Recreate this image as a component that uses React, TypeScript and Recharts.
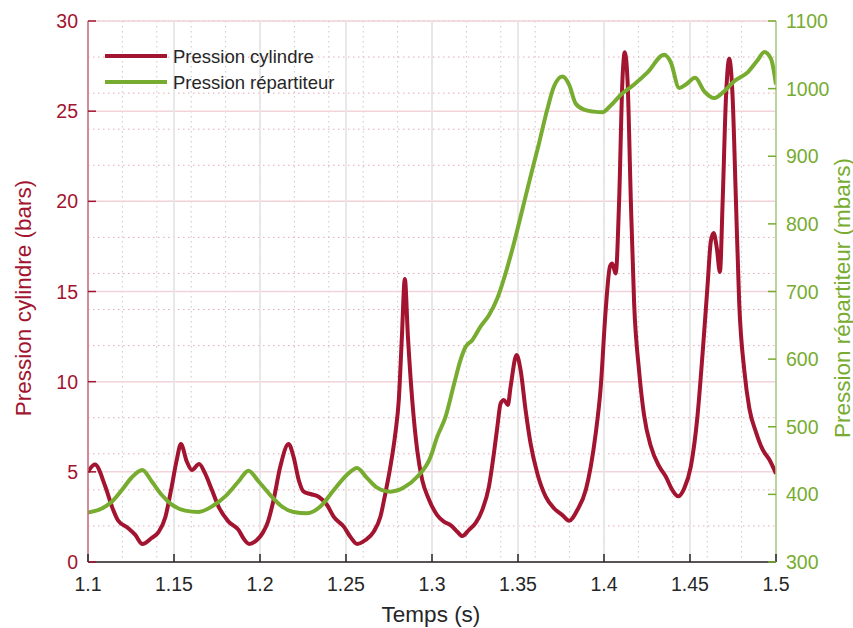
import React from 'react';
import { LineChart, Line, XAxis, YAxis, CartesianGrid, Legend, Label } from 'recharts';

const RED = '#A2142F';
const GREEN = '#77AC30';
const INK = '#262626';
const FONT = '"Liberation Sans", Arial, Helvetica, sans-serif';

// axes
const timeTicks = [1.1, 1.15, 1.2, 1.25, 1.3, 1.35, 1.4, 1.45, 1.5];
const cylinderTicks = [0, 5, 10, 15, 20, 25, 30];
const manifoldTicks = [300, 400, 500, 600, 700, 800, 900, 1000, 1100];

// Pression cylindre (bars)
const cylinderTime = [
  1.1, 1.104, 1.11, 1.114, 1.1175, 1.123, 1.1275, 1.1316, 1.137, 1.141, 1.145, 1.1483, 1.1516, 1.154,
  1.1575, 1.1604, 1.1646, 1.168, 1.172, 1.1759, 1.1817, 1.1875, 1.1904, 1.1937, 1.1982, 1.2015, 1.2045,
  1.2079, 1.2118, 1.2166, 1.2195, 1.2225, 1.2254, 1.2293, 1.2341, 1.239, 1.2428, 1.2487, 1.2525, 1.2565,
  1.2613, 1.2661, 1.27, 1.2729, 1.2758, 1.2787, 1.2807, 1.2825, 1.2842, 1.286, 1.2885, 1.2914, 1.2943,
  1.2981, 1.303, 1.3069, 1.3108, 1.3147, 1.3176, 1.3214, 1.3253, 1.3292, 1.3331, 1.336, 1.338, 1.3399,
  1.3418, 1.3441, 1.3457, 1.3492, 1.3515, 1.3544, 1.3573, 1.3612, 1.3661, 1.3709, 1.3758, 1.3797, 1.3845,
  1.3894, 1.3923, 1.3952, 1.3981, 1.401, 1.4035, 1.4048, 1.4068, 1.4088, 1.4107, 1.4121, 1.4137, 1.4156,
  1.4175, 1.4204, 1.4233, 1.4272, 1.4321, 1.4359, 1.4398, 1.4431, 1.4466, 1.4505, 1.4544, 1.4573, 1.4602,
  1.4621, 1.4637, 1.4656, 1.4674, 1.469, 1.4709, 1.4728, 1.4748, 1.4767, 1.4786, 1.4816, 1.4845, 1.4884,
  1.4922, 1.4961, 1.5,
];
const cylinderBars = [
  5.0, 5.4, 4.2, 3.05, 2.3, 1.9, 1.5, 1.0, 1.33, 1.66, 2.5, 4.0, 5.66, 6.54,
  5.56, 5.1, 5.43, 4.93, 4.0, 3.07, 2.24, 1.78, 1.31, 1.0, 1.22, 1.6, 2.2,
  3.44, 5.29, 6.54, 5.84, 4.55, 3.9, 3.77, 3.62, 3.16, 2.51, 1.96, 1.4, 1.0,
  1.22, 1.68, 2.51, 3.81, 5.29, 7.14, 8.99, 12.5, 15.7, 12.5, 8.99, 6.2, 4.55,
  3.5, 2.6, 2.24, 2.05, 1.68, 1.44, 1.77, 2.15, 2.88, 4.18, 6.03, 7.5, 8.8,
  8.99, 8.71, 9.72, 11.48, 10.65, 8.43, 6.58, 4.92, 3.62, 2.98, 2.6, 2.29, 2.88,
  3.99, 5.29, 7.14, 9.7, 14.0, 16.4, 16.55, 16.0, 20.05, 26.67, 28.27, 26.67, 20.05,
  14.38, 10.6, 8.14, 6.43, 5.3, 4.74, 3.98, 3.64, 4.07, 5.3, 8.14, 11.54, 15.32,
  17.78, 18.25, 17.4, 16.08, 20.05, 25.72, 27.9, 25.72, 20.05, 14.38, 10.6, 8.52, 7.19,
  6.24, 5.68, 4.9,
];

// Pression répartiteur (mbars)
const manifoldTime = [
  1.1, 1.108, 1.1138, 1.1196, 1.1254, 1.1316, 1.1371, 1.1429, 1.1487, 1.1565, 1.1642, 1.172, 1.1798,
  1.1875, 1.1933, 1.1992, 1.206, 1.2118, 1.2195, 1.2273, 1.2351, 1.2428, 1.2506, 1.2564, 1.2623, 1.2681,
  1.2758, 1.2836, 1.2914, 1.2991, 1.303, 1.3079, 1.3127, 1.3166, 1.3195, 1.3234, 1.3282, 1.3331, 1.338,
  1.3428, 1.3476, 1.3525, 1.3573, 1.3622, 1.367, 1.3709, 1.3758, 1.3797, 1.3835, 1.3884, 1.3942, 1.3991,
  1.4039, 1.4098, 1.4175, 1.4253, 1.435, 1.4388, 1.4437, 1.4476, 1.453, 1.4583, 1.4641, 1.4699, 1.4757,
  1.4835, 1.4893, 1.4932, 1.4971, 1.5,
];
const manifoldMbar = [
  373, 379, 389, 406, 425, 436, 419, 399, 385, 376, 374, 382, 397,
  419, 435, 419, 399, 384, 374, 372, 382, 406, 429, 439, 424, 410,
  404, 410, 426, 455, 485, 515, 562, 599, 618, 628, 648, 665, 690,
  727, 771, 821, 870, 919, 969, 1003, 1018, 1006, 978, 969, 966, 965,
  975, 991, 1006, 1024, 1050, 1039, 1001, 1006, 1016, 996, 986, 996, 1011,
  1024, 1042, 1054, 1044, 1006,
];

const minorTime = Array.from({ length: 41 }, (_, i) => +(1.1 + i * 0.01).toFixed(2));
const minorBars = Array.from({ length: 31 }, (_, i) => i);

const cylinderData = cylinderTime.map((t, i) => ({ t, bars: cylinderBars[i] }));
const manifoldData = manifoldTime.map((t, i) => ({ t, mbar: manifoldMbar[i] }));

const TICK_FS = 19.5;
const TITLE_FS = 22.5;

function LeftTick({ x, y, payload }: any) {
  return (
    <g>
      <line x1={x} y1={y} x2={x + 8} y2={y} stroke={RED} strokeWidth={1.5} />
      <text x={x - 10} y={y} dy="0.36em" textAnchor="end" fill={RED} fontSize={TICK_FS} fontFamily={FONT}>
        {payload.value}
      </text>
    </g>
  );
}

function RightTick({ x, y, payload }: any) {
  return (
    <g>
      <line x1={x - 8} y1={y} x2={x} y2={y} stroke={GREEN} strokeWidth={1.5} />
      <text x={x + 10} y={y} dy="0.36em" textAnchor="start" fill={GREEN} fontSize={TICK_FS} fontFamily={FONT}>
        {payload.value}
      </text>
    </g>
  );
}

function BottomTick({ x, y, payload }: any) {
  return (
    <g>
      <line x1={x} y1={y} x2={x} y2={y - 8} stroke={INK} strokeWidth={1.5} />
      <text x={x} y={y + 29} textAnchor="middle" fill={INK} fontSize={TICK_FS} fontFamily={FONT}>
        {String(+Number(payload.value).toFixed(2))}
      </text>
    </g>
  );
}

function LegendBox() {
  return (
    <svg width={260} height={60} style={{ display: 'block' }}>
      <line x1={5} y1={16} x2={67} y2={16} stroke={RED} strokeWidth={4} />
      <text x={73} y={23} fill={INK} fontSize={18.5} fontFamily={FONT}>Pression cylindre</text>
      <line x1={5} y1={42} x2={67} y2={42} stroke={GREEN} strokeWidth={4} />
      <text x={73} y={49} fill={INK} fontSize={18.5} fontFamily={FONT}>Pression répartiteur</text>
    </svg>
  );
}

export default function App() {
  return (
    <div style={{ position: 'absolute', left: 0, top: 0, background: '#fff' }}>
      <LineChart width={853} height={628} margin={{ top: 21, right: 0, bottom: 0, left: 0 }}>
        <CartesianGrid
          yAxisId="left"
          vertical={false}
          horizontalValues={minorBars}
          stroke="#e4a9b4"
          strokeDasharray="1.5 3.5"
        />
        <CartesianGrid
          yAxisId="left"
          horizontal={false}
          verticalValues={minorTime}
          stroke="#c9c9c9"
          strokeDasharray="1.5 3.5"
        />
        <CartesianGrid yAxisId="left" vertical={false} horizontalValues={cylinderTicks} stroke="#f1d3d9" strokeWidth={1.5} />
        <CartesianGrid yAxisId="left" horizontal={false} verticalValues={timeTicks} stroke="#e6e6e6" strokeWidth={1.8} />
        <XAxis
          dataKey="t"
          type="number"
          domain={[1.1, 1.5]}
          ticks={timeTicks}
          allowDataOverflow
          height={66}
          tickSize={0}
          tickMargin={0}
          tick={<BottomTick />}
          axisLine={{ stroke: INK, strokeWidth: 1.5 }}
        >
          <Label
            content={() => (
              <text x={431} y={622} textAnchor="middle" fill={INK} fontSize={TITLE_FS} fontFamily={FONT}>
                Temps (s)
              </text>
            )}
          />
        </XAxis>
        <YAxis
          yAxisId="left"
          orientation="left"
          domain={[0, 30]}
          ticks={cylinderTicks}
          allowDataOverflow
          width={88}
          tickSize={0}
          tickMargin={0}
          tick={<LeftTick />}
          axisLine={{ stroke: '#c96d7e', strokeWidth: 1.5 }}
        >
          <Label
            content={() => (
              <text
                x={23}
                y={298}
                transform="rotate(-90 23 298)"
                textAnchor="middle"
                dominantBaseline="central"
                fill={RED}
                fontSize={TITLE_FS}
                fontFamily={FONT}
              >
                Pression cylindre (bars)
              </text>
            )}
          />
        </YAxis>
        <YAxis
          yAxisId="right"
          orientation="right"
          domain={[300, 1100]}
          ticks={manifoldTicks}
          allowDataOverflow
          width={77}
          tickSize={0}
          tickMargin={0}
          tick={<RightTick />}
          axisLine={{ stroke: '#a8cc82', strokeWidth: 1.5 }}
        >
          <Label
            content={() => (
              <text
                x={842}
                y={298}
                transform="rotate(-90 842 298)"
                textAnchor="middle"
                dominantBaseline="central"
                fill={GREEN}
                fontSize={TITLE_FS}
                fontFamily={FONT}
              >
                Pression répartiteur (mbars)
              </text>
            )}
          />
        </YAxis>
        <Legend
          layout="vertical"
          align="center"
          verticalAlign="middle"
          wrapperStyle={{ left: 100, top: 40, width: 260 }}
          content={() => <LegendBox />}
        />
        <Line
          yAxisId="left"
          data={cylinderData}
          dataKey="bars"
          type="monotone"
          stroke={RED}
          strokeWidth={4}
          dot={false}
          activeDot={false}
          isAnimationActive={false}
        />
        <Line
          yAxisId="right"
          data={manifoldData}
          dataKey="mbar"
          type="monotone"
          stroke={GREEN}
          strokeWidth={4}
          dot={false}
          activeDot={false}
          isAnimationActive={false}
        />
      </LineChart>
    </div>
  );
}
